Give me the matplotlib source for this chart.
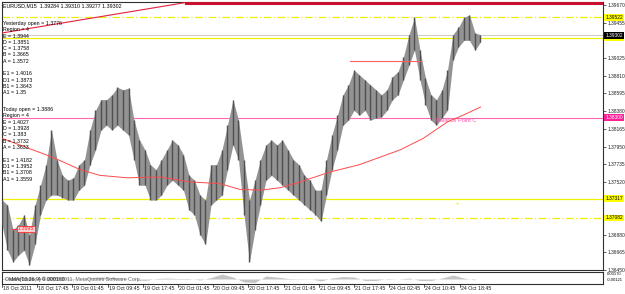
import numpy as np
import matplotlib
matplotlib.use('Agg')
import matplotlib.pyplot as plt
from matplotlib.transforms import blended_transform_factory

W, H = 625, 294
plt.rcParams['font.family'] = ['Liberation Sans', 'DejaVu Sans']
FS = 3.8
FS_AX = 3.5

# ---------------- data ----------------
# sampled bar highs / lows (every 5th M15 bar)
highs = [1.3730, 1.3724, 1.3694, 1.3700, 1.3712, 1.3688, 1.3724, 1.3748, 1.3773, 1.3815,
         1.3779, 1.3760, 1.3754, 1.3757, 1.3773, 1.3779, 1.3815, 1.3839, 1.3852, 1.3852,
         1.3858, 1.3867, 1.3864, 1.3866, 1.3827, 1.3803, 1.3791, 1.3773, 1.3767, 1.3779,
         1.3791, 1.3803, 1.3797, 1.3785, 1.3760, 1.3754, 1.3736, 1.3730, 1.3773, 1.3773,
         1.3791, 1.3821, 1.3852, 1.3827, 1.3779, 1.3730, 1.3754, 1.3779, 1.3797, 1.3803,
         1.3797, 1.3803, 1.3791, 1.3779, 1.3773, 1.3760, 1.3754, 1.3742, 1.3742, 1.3779,
         1.3809, 1.3833, 1.3858, 1.3870, 1.3888, 1.3882, 1.3876, 1.3870, 1.3864, 1.3858,
         1.3864, 1.3880, 1.3886, 1.3904, 1.3931, 1.3952, 1.3912, 1.3878, 1.3858, 1.3852,
         1.3864, 1.3888, 1.3931, 1.3940, 1.3952, 1.3955, 1.3933, 1.3931]
lows = [1.3700, 1.3669, 1.3655, 1.3663, 1.3669, 1.3651, 1.3676, 1.3712, 1.3730, 1.3736,
        1.3736, 1.3733, 1.3730, 1.3730, 1.3742, 1.3748, 1.3773, 1.3791, 1.3815, 1.3821,
        1.3815, 1.3821, 1.3815, 1.3809, 1.3779, 1.3748, 1.3748, 1.3730, 1.3730, 1.3736,
        1.3748, 1.3754, 1.3748, 1.3742, 1.3718, 1.3712, 1.3688, 1.3676, 1.3724, 1.3730,
        1.3736, 1.3767, 1.3797, 1.3779, 1.3712, 1.3655, 1.3694, 1.3724, 1.3754, 1.3760,
        1.3754, 1.3748, 1.3742, 1.3736, 1.3730, 1.3724, 1.3718, 1.3712, 1.3704, 1.3736,
        1.3767, 1.3791, 1.3821, 1.3827, 1.3839, 1.3833, 1.3839, 1.3827, 1.3830, 1.3831,
        1.3839, 1.3852, 1.3858, 1.3876, 1.3894, 1.3912, 1.3876, 1.3846, 1.3827, 1.3821,
        1.3830, 1.3839, 1.3900, 1.3916, 1.3924, 1.3924, 1.3912, 1.3922]
bar_step = 5

# moving average (red curve)
ma_bars = [0, 46, 71, 89, 114, 144, 171, 198, 216, 235, 253, 271, 298, 325, 362, 383, 405, 419, 435]
ma_vals = [1.3805, 1.3782, 1.3767, 1.3760, 1.3757, 1.3758, 1.3752, 1.3750, 1.3743, 1.3742,
           1.3745, 1.3752, 1.3764, 1.3773, 1.3791, 1.3805, 1.3825, 1.3833, 1.3843]

# OsMA histogram (every 10th bar)
osma_step = 10
osma = [0.00012, 0.00024, 0.00036, 0.00012, 0.00024, 0.00048, 0.00024, 0.0, 0.00036, 0.00048,
        0.00036, 0.00024, -0.00012, -0.00036, 0.00012, 0.00024, 0.00012, 0.00012, -0.00024, 0.00036,
        0.00120, 0.00048, -0.00072, -0.00084, 0.00072, 0.00048, 0.00012, 0.00007, 0.00007, -0.00048,
        0.00024, 0.00060, 0.00048, -0.00036, -0.00036, 0.00012, 0.0, 0.00024, -0.00036, -0.00036,
        0.00024, 0.00096, 0.00024, -0.00024]

# horizontal levels
yellow_dashdot = [1.39522, 1.37082]
yellow_solid = [1.39270, 1.37317]
bid_price = 1.39302
pink_level = 1.38300
red_segment_bars = [316, 380]
red_segment_price = 1.3899
trend_bars = [0, 167, 547]
trend_prices = [1.3933, 1.3970, 1.3970]
marker_bar, marker_price = 414, 1.3726
box_bar, box_price = 14, 1.3695

price_ticks = [1.39670, 1.39455, 1.39025, 1.38810, 1.38595, 1.38380, 1.38165, 1.37950,
               1.37735, 1.37520, 1.36880, 1.36665, 1.36450]

time_labels = ["18 Oct 2011", "18 Oct 17:45", "19 Oct 01:45", "19 Oct 09:45", "19 Oct 17:45",
               "20 Oct 01:45", "20 Oct 09:45", "20 Oct 17:45", "21 Oct 01:45", "21 Oct 09:45",
               "21 Oct 17:45", "24 Oct 02:45", "24 Oct 10:45", "24 Oct 18:45"]
time_step = 32

header = "EURUSD,M15  1.39284 1.39310 1.39277 1.39302"
info_lines = ["Yesterday open = 1.3776", "Region = 4", "E = 1.3944", "D = 1.3851", "C = 1.3758",
              "B = 1.3665", "A = 1.3572", "", "E1 = 1.4016", "D1 = 1.3873", "B1 = 1.3643", "A1 = 1.35",
              "", "Today open = 1.3886", "Region = 4", "E = 1.4027", "D = 1.3928", "C = 1.383",
              "B = 1.3732", "A = 1.3633", "", "E1 = 1.4182", "D1 = 1.3952", "B1 = 1.3708", "A1 = 1.3559"]

# ---------------- figure ----------------
fig = plt.figure(figsize=(W / 100, H / 100), dpi=100)
fig.patch.set_facecolor('white')

def px_rect(x0, y0, x1, y1):
    return [x0 / W, 1 - y1 / H, (x1 - x0) / W, (y1 - y0) / H]

ax = fig.add_axes(px_rect(2, 2, 603, 270))
axo = fig.add_axes(px_rect(2, 272, 603, 284))

PX_PER_BAR = 1.1
xmax = 601 / PX_PER_BAR
ymin, ymax = 1.36450, 1.39670 + 3 * 0.0001215

ax.set_xlim(0, xmax)
ax.set_ylim(ymin, ymax)

bars = np.arange(len(highs)) * bar_step
ax.fill_between(bars, lows, highs, color='#939393', lw=0, zorder=2)
ax.vlines(bars, lows, highs, color='#505050', lw=1.0, zorder=3)

ax.plot(ma_bars, ma_vals, color='#ff4a4a', lw=0.7, zorder=4)

for p in yellow_dashdot:
    ax.axhline(p, color='#eeee00', lw=0.9, ls=(0, (6, 2, 1, 2)), zorder=1)
for p in yellow_solid:
    ax.axhline(p, color='#f0f000', lw=0.9, zorder=1)
ax.axhline(bid_price, color='#c8c8c8', lw=0.7, zorder=1)
ax.axhline(pink_level, color='#ff69b4', lw=0.8, zorder=1)
ax.plot(red_segment_bars, [red_segment_price] * 2, color='#ff6060', lw=0.8, zorder=4)
ax.plot(trend_bars[:2], trend_prices[:2], color='#e8203c', lw=0.8, zorder=4, clip_on=True)
ax.plot(trend_bars[1:], trend_prices[1:], color='#c8102e', lw=2.2, zorder=4, clip_on=True)
ax.plot([marker_bar], [marker_price], marker='s', ms=1.2, color='#f0f000', mec='none', zorder=5)

# small red price box at left
ax.plot([box_bar - 5, box_bar], [box_price, box_price], color='#ff3030', lw=0.7, zorder=5)
ax.text(box_bar, box_price, "1.3695", fontsize=FS, color='#ff3030', va='center', ha='left', zorder=6,
        bbox=dict(boxstyle='square,pad=0.15', fc='#ffd0d0', ec='#ff3030', lw=0.6))

ax.text(395, pink_level - 0.00030, "Balance Point C", fontsize=4.1, color='#ff4fa8', va='center', ha='left')

# axes styling
ax.set_facecolor('white')
for s in ax.spines.values():
    s.set_color('#303030')
    s.set_linewidth(0.8)
ax.set_xticks([])
ax.yaxis.tick_right()
ax.set_yticks(price_ticks)
ax.set_yticklabels([f"{t:.5f}" for t in price_ticks])
ax.tick_params(axis='y', labelsize=FS_AX, length=2, width=0.5, pad=1, colors='#202020')

# right side coloured labels
trans = blended_transform_factory(ax.transAxes, ax.transData)
def side_label(p, text, fc, tc):
    ax.text(1.004, p, text, transform=trans, fontsize=FS_AX, color=tc, va='center', ha='left', zorder=10,
            clip_on=False, bbox=dict(boxstyle='square,pad=0.2', fc=fc, ec='none'))

side_label(1.39522, "1.39522", '#ffff00', 'black')
side_label(1.39270, "1.39270", '#ffff00', 'black')
side_label(bid_price, "1.39302", 'black', 'white')
side_label(pink_level, "1.38300", '#ff1e96', 'white')
side_label(1.37317, "1.37317", '#ffff00', 'black')
side_label(1.37082, "1.37082", '#ffff00', 'black')

# OsMA panel
osma_bars = np.arange(len(osma)) * osma_step
axo.set_xlim(0, xmax)
axo.set_ylim(-0.00121, 0.00170)
axo.fill_between(osma_bars, 0, osma, color='#c4c4c4', lw=0)
axo.set_xticks([])
axo.set_yticks([])
for s in axo.spines.values():
    s.set_color('#303030')
    s.set_linewidth(0.8)
axo.text(0.005, 0.4, "OsMA(12,26,9) 0.000160", transform=axo.transAxes, fontsize=FS, va='center', color='#303030')
axo.text(0.012, 0.4, "MetaTrader 4 \u00a9 2001-2011, MetaQuotes Software Corp.", transform=axo.transAxes,
         fontsize=FS, va='center', color='#404040', alpha=0.8)
axo.text(1.006, 0.8, "0.00170", transform=axo.transAxes, fontsize=FS_AX * 0.85, va='center', ha='left')
axo.text(1.006, 0.35, "-0.00121", transform=axo.transAxes, fontsize=FS_AX * 0.85, va='center', ha='left')

# time labels
for i, lab in enumerate(time_labels):
    b = i * time_step
    xf = (2 + b * PX_PER_BAR) / W
    fig.text(xf + 1 / W, 1 - 289 / H, lab, fontsize=FS, va='center', ha='left', color='#202020')
    fig.add_artist(plt.Line2D([xf, xf], [1 - 284 / H, 1 - 287 / H], color='#202020', lw=0.5))

# left info text
fig.text(3 / W, 1 - 6 / H, header, fontsize=FS, va='center', ha='left', color='black')
y = 23.5
for line in info_lines:
    if line == "Today open = 1.3886":
        y = 109
    if line:
        fig.text(3 / W, 1 - y / H, line, fontsize=FS, va='center', ha='left', color='black')
    y += 6.3 if line != "Today open = 1.3886" else 7

fig.savefig('out.png', dpi=100)
